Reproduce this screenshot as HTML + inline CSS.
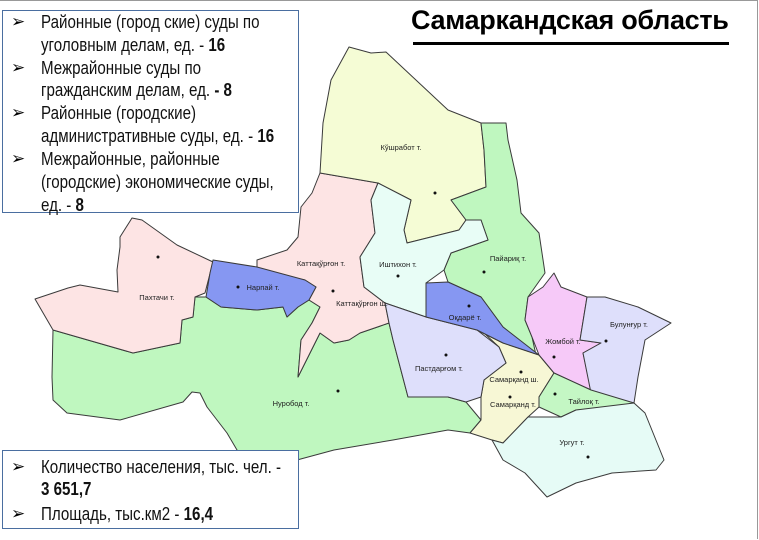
<!DOCTYPE html>
<html><head><meta charset="utf-8">
<style>
html,body{margin:0;padding:0;background:#fff;}
#page{position:relative;width:759px;height:540px;overflow:hidden;background:#fff;font-family:"Liberation Sans",sans-serif;}
#frame{position:absolute;left:0;top:0;width:757px;height:538px;border-top:1px solid #999;border-right:1px solid #999;}
.box{position:absolute;border:1px solid #4a6ea0;background:#fff;color:#111;}
.ln{position:absolute;left:38px;white-space:nowrap;font-size:18px;line-height:22px;transform:scaleX(0.84);transform-origin:0 50%;}
.bl{position:absolute;left:8px;font-size:17px;line-height:22px;color:#000;font-family:"DejaVu Sans",sans-serif;}
b{font-weight:bold;}
#title{position:absolute;left:411px;top:5px;font-weight:bold;font-size:27px;color:#000;letter-spacing:-0.3px;}
#uline{position:absolute;left:413px;top:42px;width:316px;height:3px;background:#000;}
svg{position:absolute;left:0;top:0;}
svg text{font-family:"Liberation Sans",sans-serif;font-size:7.5px;fill:#222;}
</style></head>
<body>
<div id="page">
<div id="frame"></div>
<svg width="759" height="540">
<g stroke="#3a3a3a" stroke-width="1" stroke-linejoin="round">
<polygon fill="#bff7bf" points="195,297 193,317 182,320 180,343 133,353 53,330 52,377 53,400 67,413 120,420 183,402 192,392 200,393 207,407 227,433 237,450 247,457 250,470 290,470 297,460 334,450 393,440 448,430 470,433 481,420 466,402 448,397 408,397 393,340 389,323 360,333 349,340 334,343 320,333 298,377 301,340 312,323 320,307 309,300 298,307 287,317 283,307 257,310 221,307 206,297"/>
<polygon fill="#fde4e4" points="35,299 68,288 80,285 118,292 117,270 120,247 120,237 132,218 142,220 177,245 213,262 205,293 195,297 193,317 182,320 180,343 133,353 53,330"/>
<polygon fill="#fde4e4" points="320,173 378,183 371,200 375,233 360,257 364,287 385,303 389,323 360,333 349,340 334,343 320,333 298,377 301,340 312,323 320,307 309,300 316,287 305,280 257,270 257,260 287,250 298,237 301,207 312,193"/>
<polygon fill="#8697f2" points="213,260 257,267 305,280 316,287 309,300 298,307 287,317 283,307 257,310 221,307 206,297 210,273"/>
<polygon fill="#f5fcd5" points="349,47 371,53 386,52 448,110 481,123 484,150 486,187 451,200 466,220 459,230 407,243 404,230 411,200 378,183 320,173 323,123 331,80"/>
<polygon fill="#bff7bf" points="481,123 506,123 508,140 517,180 521,213 539,233 545,273 528,297 525,320 532,337 536,355 503,327 481,297 448,282 444,270 451,253 488,240 481,220 466,220 451,200 486,187 484,150"/>
<polygon fill="#e8fdf6" points="378,183 411,200 404,230 407,243 459,230 466,220 481,220 488,240 451,253 444,270 426,283 426,317 385,303 364,287 360,257 375,233 371,200"/>
<polygon fill="#f7f7d5" points="477,330 503,343 539,355 554,373 539,397 539,407 528,417 503,443 492,440 470,433 481,420 481,397 484,380 506,363 499,347 484,333"/>
<polygon fill="#dedffb" points="385,303 426,317 477,330 499,347 506,363 484,380 481,397 466,402 448,397 408,397 393,340 389,323"/>
<polygon fill="#8697f2" points="426,283 448,282 481,297 503,327 539,355 503,343 477,330 426,317"/>
<polygon fill="#f6c9f8" points="528,297 543,287 554,273 561,287 587,297 580,340 601,343 583,353 591,390 554,373 539,355 532,337 525,320"/>
<polygon fill="#dedffb" points="587,297 605,297 638,307 671,323 645,340 638,377 634,403 591,393 583,353 601,343 580,340"/>
<polygon fill="#c4f7c4" points="554,373 591,390 634,403 627,407 576,410 561,417 539,407 539,397"/>
<polygon fill="#e6fbf6" points="528,417 561,417 576,410 634,403 645,413 664,460 656,470 612,473 576,483 547,497 525,473 503,460 492,440 503,443"/>
</g>
<g fill="#111">
<circle cx="435" cy="193" r="1.5"/><circle cx="333" cy="291" r="1.5"/><circle cx="398" cy="276" r="1.5"/>
<circle cx="484" cy="272" r="1.5"/><circle cx="238" cy="287" r="1.5"/><circle cx="158" cy="257" r="1.5"/>
<circle cx="469" cy="306" r="1.5"/><circle cx="554" cy="357" r="1.5"/><circle cx="606" cy="341" r="1.5"/>
<circle cx="446" cy="355" r="1.5"/><circle cx="521" cy="372" r="1.5"/><circle cx="510" cy="397" r="1.5"/>
<circle cx="555" cy="394" r="1.5"/><circle cx="338" cy="391" r="1.5"/><circle cx="588" cy="457" r="1.5"/>
</g>
<g text-anchor="middle">
<text x="401" y="150">Кўшработ т.</text>
<text x="321" y="266">Каттақўрғон т.</text>
<text x="362" y="306">Каттақўрғон ш.</text>
<text x="398" y="267">Иштихон т.</text>
<text x="508" y="261">Пайариқ т.</text>
<text x="263" y="290">Нарпай т.</text>
<text x="157" y="300">Пахтачи т.</text>
<text x="465" y="320">Оқдарё т.</text>
<text x="563" y="344">Жомбой т.</text>
<text x="629" y="327">Булунғур т.</text>
<text x="439" y="371">Пастдарғом т.</text>
<text x="514" y="382">Самарқанд ш.</text>
<text x="513" y="407">Самарқанд т.</text>
<text x="584" y="404">Тайлоқ т.</text>
<text x="291" y="406">Нуробод т.</text>
<text x="572" y="445">Ургут т.</text>
</g>
</svg>
<div id="title">Самаркандская область</div>
<div id="uline"></div>
<div class="box" style="left:2px;top:10px;width:295px;height:201px;">
<span class="bl" style="top:0px">➢</span>
<div class="ln" style="top:0px">Районные (город ские) суды по</div>
<div class="ln" style="top:23px">уголовным делам, ед. - <b>16</b></div>
<span class="bl" style="top:46px">➢</span>
<div class="ln" style="top:46px">Межрайонные суды по</div>
<div class="ln" style="top:68px">гражданским делам, ед. <b>- 8</b></div>
<span class="bl" style="top:91px">➢</span>
<div class="ln" style="top:91px">Районные (городские)</div>
<div class="ln" style="top:114px">административные суды, ед. - <b>16</b></div>
<span class="bl" style="top:137px">➢</span>
<div class="ln" style="top:137px">Межрайонные, районные</div>
<div class="ln" style="top:160px">(городские) экономические суды,</div>
<div class="ln" style="top:183px">ед. - <b>8</b></div>
</div>
<div class="box" style="left:2px;top:450px;width:295px;height:77px;">
<span class="bl" style="top:5px">➢</span>
<div class="ln" style="top:5px">Количество населения, тыс. чел. -</div>
<div class="ln" style="top:27px"><b>3 651,7</b></div>
<span class="bl" style="top:52px">➢</span>
<div class="ln" style="top:52px">Площадь, тыс.км2 - <b>16,4</b></div>
</div>
</div>
</body></html>
